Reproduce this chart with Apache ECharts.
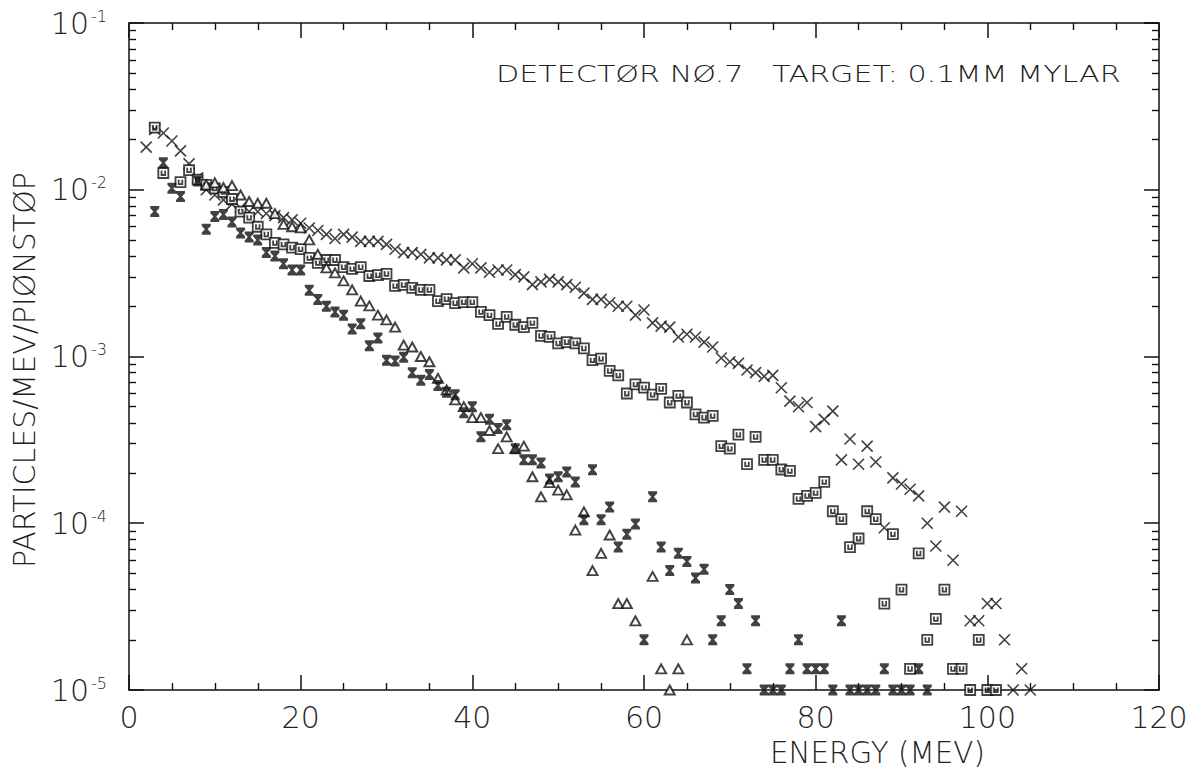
<!DOCTYPE html>
<html>
<head>
<meta charset="utf-8">
<title>Detector 7 spectrum</title>
<script src="https://cdn.jsdelivr.net/npm/echarts@6/dist/echarts.min.js"></script>
<style>
    html, body { margin: 0; padding: 0; background: #fff; }
    #chart { width: 1194px; height: 773px; }
</style>
</head>
<body>
<div id="chart"></div>
<script>
/* global echarts */

// energies (MeV) and yields (particles/MeV/pion stop), one pair of arrays per marker
var crossE = [2, 3, 4, 5, 6, 7, 8, 9, 10, 11, 12, 13, 14, 15, 16, 17, 18, 19, 20, 21, 22, 23, 24, 25, 26, 27, 28, 29,
    30, 31, 32, 33, 34, 35, 36, 37, 38, 39, 40, 41, 42, 43, 44, 45, 46, 47, 48, 49, 50, 51, 52, 53, 54, 55, 56, 57,
    58, 59, 60, 61, 62, 63, 64, 65, 66, 67, 68, 69, 70, 71, 72, 73, 74, 75, 76, 77, 78, 79, 80, 81, 82, 83, 84, 85,
    86, 87, 88, 89, 90, 91, 92, 93, 94, 95, 96, 97, 98, 99, 100, 101, 102, 103, 104, 105];
var crossV = [0.018, 0.023, 0.0219, 0.0196, 0.0171, 0.0143, 0.0118, 0.0100, 0.0093, 0.0087, 0.0082, 0.0078, 0.0074,
    0.0074, 0.0072, 0.0070, 0.0068, 0.0066, 0.0063, 0.0059, 0.0057, 0.0054, 0.0051, 0.0054, 0.0052, 0.0049, 0.0049,
    0.0049, 0.0047, 0.0044, 0.0042, 0.0042, 0.0041, 0.0039, 0.0039, 0.0038, 0.0038, 0.0034, 0.0036, 0.0034, 0.0032,
    0.0033, 0.0033, 0.0031, 0.0030, 0.0027, 0.0028, 0.0029, 0.0028, 0.0027, 0.0026, 0.0024, 0.0022, 0.0022, 0.0021,
    0.0020, 0.0020, 0.00177, 0.0019, 0.00159, 0.00152, 0.0015, 0.00131, 0.00136, 0.00131, 0.00122, 0.00114, 0.00098,
    0.00093, 0.00091, 0.00083, 0.0008, 0.00076, 0.00077, 0.00065, 0.00054, 0.0005, 0.00053, 0.00038, 0.00042, 0.00047,
    0.00024, 0.00032, 0.000226, 0.00029, 0.000233, 0.000094, 0.000187, 0.000172, 0.00016, 0.000146, 0.0001, 0.000073,
    0.000125, 0.00006, 0.000118, 0.000026, 0.000026, 0.000033, 0.000033, 0.00002, 0.00001, 0.0000134, 0.00001];

var squareE = [3, 4, 6, 7, 8, 9, 10, 11, 12, 13, 14, 15, 16, 17, 18, 19, 20, 21, 22, 23, 24, 25, 26, 27, 28, 29, 30,
    31, 32, 33, 34, 35, 36, 37, 38, 39, 40, 41, 42, 43, 44, 45, 46, 47, 48, 49, 50, 51, 52, 53, 54, 55, 56, 57, 58,
    59, 60, 61, 62, 63, 64, 65, 66, 67, 68, 69, 70, 71, 72, 73, 74, 75, 76, 77, 78, 79, 80, 81, 82, 83, 84, 85, 86,
    87, 88, 89, 90, 91, 92, 93, 94, 95, 96, 97, 98, 99, 100, 101];
var squareV = [0.0236, 0.0126, 0.0111, 0.0131, 0.0115, 0.0107, 0.0102, 0.0097, 0.0088, 0.0074, 0.0068, 0.0060, 0.0054,
    0.0048, 0.0047, 0.0045, 0.0044, 0.0039, 0.00364, 0.00379, 0.00379, 0.00344, 0.00335, 0.00344, 0.00304, 0.00308,
    0.00313, 0.00265, 0.00269, 0.00258, 0.00251, 0.00251, 0.00215, 0.00221, 0.00209, 0.00212, 0.00212, 0.00185,
    0.00177, 0.00157, 0.00173, 0.00155, 0.0015, 0.00159, 0.00133, 0.00131, 0.0012, 0.00122, 0.0012, 0.00112, 0.00095,
    0.00097, 0.00082, 0.00077, 0.0006, 0.00068, 0.00065, 0.00059, 0.00064, 0.00053, 0.00058, 0.00053, 0.00045,
    0.00043, 0.00044, 0.00029, 0.00028, 0.00034, 0.000226, 0.00033, 0.00024, 0.00024, 0.00021, 0.000206, 0.00014,
    0.000146, 0.000152, 0.000177, 0.000118, 0.000106, 0.000072, 0.000081, 0.000118, 0.000106, 0.000033, 0.000086,
    0.00004, 0.0000134, 0.000066, 0.00002, 0.0000267, 0.00004, 0.0000134, 0.0000134, 0.00001, 0.00002, 0.00001,
    0.00001];

var triangleE = [9, 10, 11, 12, 13, 14, 15, 16, 17, 18, 19, 20, 21, 22, 23, 24, 25, 26, 27, 28, 29, 30, 31, 32, 33,
    34, 35, 36, 37, 38, 39, 40, 41, 42, 43, 44, 45, 46, 47, 48, 49, 50, 51, 52, 53, 54, 55, 56, 57, 58, 59, 61, 62,
    63, 64, 65];
var triangleV = [0.0107, 0.0110, 0.0103, 0.0106, 0.0093, 0.0085, 0.0083, 0.0083, 0.0072, 0.0062, 0.0060, 0.0059,
    0.0050, 0.0041, 0.0034, 0.00317, 0.00284, 0.00251, 0.00215, 0.00201, 0.00177, 0.00166, 0.0015, 0.00117, 0.00114,
    0.0010, 0.00093, 0.00074, 0.00063, 0.00055, 0.0005, 0.00043, 0.00043, 0.00036, 0.00028, 0.00033, 0.00028,
    0.00029, 0.00019, 0.000144, 0.000175, 0.000158, 0.000148, 0.000091, 0.000117, 0.000052, 0.000066, 0.000085,
    0.000033, 0.000033, 0.000026, 0.000048, 0.0000134, 0.00001, 0.0000134, 0.00002];

var bowtieE = [3, 4, 5, 6, 8, 9, 10, 11, 12, 13, 14, 15, 16, 17, 18, 19, 20, 21, 22, 23, 24, 25, 26, 27, 28, 29, 30,
    31, 32, 33, 34, 35, 36, 37, 38, 39, 40, 41, 42, 43, 44, 45, 46, 47, 48, 49, 50, 51, 52, 53, 54, 55, 56, 57, 58,
    59, 60, 61, 62, 63, 64, 65, 66, 67, 68, 69, 70, 71, 72, 73, 74, 75, 76, 77, 78, 79, 80, 81, 82, 83, 84, 85, 86,
    87, 88, 89, 90, 91, 92, 93];
var bowtieV = [0.0074, 0.0145, 0.0102, 0.0091, 0.0113, 0.0058, 0.0069, 0.0071, 0.0064, 0.0055, 0.0052, 0.0050, 0.0042,
    0.0040, 0.0036, 0.0033, 0.0033, 0.0025, 0.0022, 0.0020, 0.00185, 0.00177, 0.00146, 0.00157, 0.00116, 0.00129,
    0.00095, 0.00094, 0.00099, 0.0008, 0.00072, 0.00078, 0.00067, 0.00061, 0.00059, 0.00046, 0.0005, 0.00033,
    0.00042, 0.00037, 0.00039, 0.00028, 0.00024, 0.00024, 0.00023, 0.000184, 0.00019, 0.000203, 0.000177, 0.000105,
    0.000209, 0.000105, 0.000125, 0.000072, 0.000086, 0.000099, 0.00002, 0.000144, 0.000072, 0.000052, 0.000066,
    0.000059, 0.000047, 0.000053, 0.00002, 0.000026, 0.00004, 0.000033, 0.0000134, 0.000026, 0.00001, 0.00001,
    0.00001, 0.0000134, 0.00002, 0.0000134, 0.0000134, 0.0000134, 0.00001, 0.000026, 0.00001, 0.00001, 0.00001,
    0.00001, 0.0000134, 0.00001, 0.00001, 0.00001, 0.0000134, 0.00001];

// axis ticks
var xTicks = [0, 20, 40, 60, 80, 100, 120];
var yDecades = [-5, -4, -3, -2, -1];
var yMantissas = [2, 3, 4, 5, 6, 7, 8, 9];

var titleText = 'DETECTØR NØ.7   TARGET: 0.1MM MYLAR';
var yName = 'PARTICLES/MEV/PIØNSTØP';
var xName = 'ENERGY (MEV)';

var FONT = "'DejaVu Sans', sans-serif";
var INK = '#111';
var TEXT_INK = '#222';

function pairs(e, v) {
    return e.map(function (x, i) {
        return [x, v[i]];
    });
}

// squeeze or stretch a plotter-style label so that it spans the given length
var measureCtx = document.createElement('canvas').getContext('2d');
function fitScale(text, font, length) {
    measureCtx.font = font;
    return length / measureCtx.measureText(text).width;
}

var yMinor = [];
yDecades.slice(0, -1).forEach(function (d) {
    yMantissas.forEach(function (m) {
        yMinor.push(m * Math.pow(10, d));
    });
});

var lineStyle = {color: INK, width: 1.5};

function xAxis(pos, labels) {
    return {
        type: 'value',
        position: pos,
        min: xTicks[0],
        max: xTicks[xTicks.length - 1],
        interval: xTicks[1] - xTicks[0],
        axisLine: {show: true, lineStyle: lineStyle},
        axisTick: {show: true, inside: true, length: 15, lineStyle: {color: INK, width: 1.5}},
        minorTick: {show: true, splitNumber: 4, length: 7, lineStyle: {color: INK, width: 1.4}},
        splitLine: {show: false},
        axisLabel: {
            show: labels,
            color: TEXT_INK,
            fontFamily: FONT,
            fontWeight: 200,
            fontSize: 30,
            margin: 12
        }
    };
}

function yAxis(pos, minor, labels) {
    return {
        type: 'log',
        logBase: 10,
        position: pos,
        min: Math.pow(10, yDecades[0]),
        max: Math.pow(10, yDecades[yDecades.length - 1]),
        axisLine: {show: !minor, lineStyle: lineStyle},
        axisTick: minor ? {
            show: true, inside: true, length: 7, customValues: yMinor,
            lineStyle: {color: INK, width: 1.4}
        } : {show: true, inside: true, length: 15, lineStyle: {color: INK, width: 1.5}},
        splitLine: {show: false},
        axisLabel: {
            show: labels,
            margin: 22,
            formatter: function (v) {
                return '{b|10}{s|' + Math.round(Math.log10(v)) + '}';
            },
            rich: {
                b: {fontFamily: FONT, fontWeight: 200, fontSize: 30, color: TEXT_INK},
                s: {
                    fontFamily: FONT, fontWeight: 200, fontSize: 16, color: TEXT_INK,
                    verticalAlign: 'top', padding: [0, 0, 0, 2]
                }
            }
        }
    };
}

var titleFont = '200 23px ' + FONT;
var yNameFont = '200 31px ' + FONT;
var xNameFont = '200 30px ' + FONT;

var myChart = echarts.init(document.getElementById('chart'), null, {renderer: 'svg'});

var option = {
    animation: false,
    backgroundColor: '#fff',
    grid: {left: 129, right: 35, top: 23, bottom: 83, containLabel: false},
    xAxis: [xAxis('bottom', true), xAxis('top', false)],
    yAxis: [yAxis('left', false, true), yAxis('left', true, false),
        yAxis('right', false, false), yAxis('right', true, false)],
    graphic: [
        {
            type: 'text', x: 496, y: 74, scaleX: fitScale(titleText, titleFont, 625),
            style: {text: titleText, font: titleFont, fill: TEXT_INK, textAlign: 'left', textVerticalAlign: 'middle'}
        },
        {
            type: 'text', x: 24, y: 568, rotation: Math.PI / 2, scaleX: fitScale(yName, yNameFont, 396),
            style: {text: yName, font: yNameFont, fill: TEXT_INK, textAlign: 'left', textVerticalAlign: 'middle'}
        },
        {
            type: 'text', x: 770, y: 752, scaleX: fitScale(xName, xNameFont, 215),
            style: {text: xName, font: xNameFont, fill: TEXT_INK, textAlign: 'left', textVerticalAlign: 'middle'}
        }
    ],
    series: [
        {
            name: 'cross', type: 'scatter', clip: false,
            symbol: 'path://M0,0L10,10M10,0L0,10', symbolSize: 11,
            itemStyle: {color: 'none', borderColor: INK, borderWidth: 1.6},
            data: pairs(crossE, crossV)
        },
        {
            name: 'square', type: 'scatter', clip: false,
            symbol: 'path://M0,0L10,0L10,10L0,10ZM3.2,2.5L3.2,7L6.8,7L6.8,2.5', symbolSize: 10,
            itemStyle: {color: '#fff', borderColor: INK, borderWidth: 1.8},
            data: pairs(squareE, squareV)
        },
        {
            name: 'triangle', type: 'scatter', clip: false,
            symbol: 'path://M5,0L10,9L0,9Z', symbolSize: [10, 9],
            itemStyle: {color: '#fff', borderColor: INK, borderWidth: 1.9},
            data: pairs(triangleE, triangleV)
        },
        {
            name: 'bowtie', type: 'scatter', clip: false,
            symbol: 'path://M0,0L10,0L10,2L6.5,5L10,8L10,10L0,10L0,8L3.5,5L0,2Z', symbolSize: [9, 11],
            itemStyle: {color: INK, borderWidth: 0},
            data: pairs(bowtieE, bowtieV)
        }
    ]
};

myChart.setOption(option);

window.addEventListener('resize', function () {
    myChart.resize();
});
</script>
</body>
</html>
